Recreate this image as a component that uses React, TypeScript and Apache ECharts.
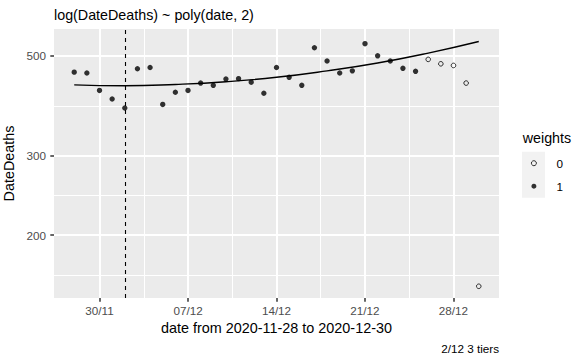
import React, { useEffect, useRef } from "react";
import * as echarts from "echarts";

// ---- data ----
const startDate = "2020-11-28";
const endDate = "2020-12-30";
// one value per day, starting at startDate
const dateDeaths = [
  460, 458, 419, 401, 383, 468, 471, 390, 415, 419, 435,
  430, 444, 445, 437, 413, 471, 448, 430, 521, 487, 458,
  463, 532, 500, 487, 469, 462, 491, 480, 476, 435, 154,
];
const weights = [
  1, 1, 1, 1, 1, 1, 1, 1, 1, 1, 1,
  1, 1, 1, 1, 1, 1, 1, 1, 1, 1, 1,
  1, 1, 1, 1, 1, 1, 0, 0, 0, 0, 0,
];
// fitted curve (day offset, value)
const fitDays = [0, 4, 8, 12, 16, 20, 24, 28, 32];
const fitDeaths = [431, 429, 432, 438, 448, 463, 482, 507, 538];
const tierDay = 4; // 2/12
const xTickDays = [2, 9, 16, 23, 30];
const xTickLabels = ["30/11", "07/12", "14/12", "21/12", "28/12"];
const xMinorDays = [5.5, 12.5, 19.5, 26.5];
const yTicks = [200, 300, 500];

const FONT = "'Liberation Sans', Arial, Helvetica, sans-serif";

export default function App() {
  const ref = useRef<HTMLDivElement>(null);
  useEffect(() => {
    if (!ref.current) return;
    const chart = echarts.init(ref.current, undefined, { renderer: "svg" });

    const yMajorLog = yTicks.map((v) => Math.log10(v));
    const yMinorLog: number[] = [];
    yMinorLog.push(yMajorLog[0] - (yMajorLog[1] - yMajorLog[0]) / 2);
    for (let i = 0; i < yMajorLog.length - 1; i++) {
      yMinorLog.push((yMajorLog[i] + yMajorLog[i + 1]) / 2);
    }

    const pts0: number[][] = [];
    const pts1: number[][] = [];
    dateDeaths.forEach((v, i) => {
      const p = [i, Math.log10(v)];
      if (weights[i] === 0) pts0.push(p);
      else pts1.push(p);
    });

    const xMin = -1.6, xMax = 33.6, yMin = 2.1615, yMax = 2.7585;
    const minorStyle = { color: "white", width: 1, type: "solid" };
    const majorStyle = { color: "white", width: 2, type: "solid" };
    const gridPairs: any[] = [];
    xMinorDays.forEach((d) => gridPairs.push([{ coord: [d, yMin], lineStyle: minorStyle }, { coord: [d, yMax] }]));
    yMinorLog.forEach((v) => gridPairs.push([{ coord: [xMin, v], lineStyle: minorStyle }, { coord: [xMax, v] }]));
    xTickDays.forEach((d) => gridPairs.push([{ coord: [d, yMin], lineStyle: majorStyle }, { coord: [d, yMax] }]));
    yMajorLog.forEach((v) => gridPairs.push([{ coord: [xMin, v], lineStyle: majorStyle }, { coord: [xMax, v] }]));

    const option: any = {
      animation: false,
      backgroundColor: "#fff",
      textStyle: { fontFamily: FONT },
      title: [
        { text: "log(DateDeaths) ~ poly(date, 2)", left: 54, top: 8, padding: 0,
          textStyle: { fontSize: 14.3, fontWeight: "normal", color: "#000", fontFamily: FONT } },
        { text: "weights", left: 522.7, top: 130.5, padding: 0,
          textStyle: { fontSize: 14.3, fontWeight: "normal", color: "#000", fontFamily: FONT } },
        { text: "2/12 3 tiers", right: 87, top: 342, padding: 0,
          textStyle: { fontSize: 11.7, fontWeight: "normal", color: "#000", fontFamily: FONT } },
      ],
      graphic: [
        { type: "rect", z: 0, shape: { x: 522, y: 151.7, width: 23, height: 46 }, style: { fill: "#F2F2F2" } },
      ],
      legend: {
        orient: "vertical", left: 530.9, top: 156.2, padding: 0, itemWidth: 5, itemHeight: 5, itemGap: 9,
        selectedMode: false,
        data: [
          { name: "0", icon: "circle", itemStyle: { color: "rgba(0,0,0,0)", borderColor: "#000", borderWidth: 1 } },
          { name: "1", icon: "circle", itemStyle: { color: "#000", borderWidth: 0 } },
        ],
        textStyle: { fontSize: 11.7, color: "#000", fontFamily: FONT, lineHeight: 14, padding: [0, 0, 0, 15] },
      },
      grid: {
        left: 54, right: 87, top: 29, bottom: 64, show: true,
        backgroundColor: "#EBEBEB", borderWidth: 0, outerBoundsMode: "none",
      },
      xAxis: {
        type: "value", min: xMin, max: xMax,
        axisLine: { show: true, onZero: false, lineStyle: { color: "rgba(0,0,0,0)" } },
        splitLine: { show: false },
        axisTick: { show: true, length: 3.7, lineStyle: { color: "#333", width: 1.5 }, customValues: xTickDays },
        axisLabel: {
          customValues: xTickDays,
          formatter: (v: number) => {
            const i = xTickDays.indexOf(Math.round(v));
            return i >= 0 ? xTickLabels[i] : "";
          },
          color: "#4D4D4D", fontSize: 11.7, margin: 6.5, fontFamily: FONT,
        },
        name: `date from ${startDate} to ${endDate}`,
        nameLocation: "middle", nameGap: 21,
        nameTextStyle: { fontSize: 14.4, color: "#000", fontFamily: FONT },
      },
      yAxis: {
        type: "value", min: yMin, max: yMax,
        axisLine: { show: true, onZero: false, lineStyle: { color: "rgba(0,0,0,0)" } },
        splitLine: { show: false },
        axisTick: { show: true, length: 3.7, lineStyle: { color: "#333", width: 1.5 }, customValues: yMajorLog },
        axisLabel: {
          customValues: yMajorLog,
          formatter: (v: number) => String(Math.round(Math.pow(10, v))),
          color: "#4D4D4D", fontSize: 11.7, margin: 8, fontFamily: FONT,
        },
        name: "DateDeaths", nameLocation: "middle", nameRotate: 90, nameGap: 33,
        nameTextStyle: { fontSize: 14.4, color: "#000", fontFamily: FONT },
      },
      series: [
        {
          name: "fit", type: "line", z: 3, smooth: true, showSymbol: false, symbol: "none",
          lineStyle: { color: "#000", width: 1.4 },
          data: fitDays.map((d, i) => [d, Math.log10(fitDeaths[i])]),
          markLine: { z: 1, silent: true, symbol: "none", label: { show: false }, data: gridPairs },
        },
        {
          name: "0", type: "scatter", z: 4, symbol: "circle", symbolSize: 4.6,
          itemStyle: { color: "rgba(0,0,0,0)", borderColor: "#000", borderWidth: 1 }, data: pts0,
        },
        {
          name: "1", type: "scatter", z: 4, symbol: "circle", symbolSize: 5.4,
          itemStyle: { color: "#000" }, data: pts1,
          markLine: {
            z: 2, silent: true, symbol: "none", label: { show: false },
            lineStyle: { color: "#000", width: 1.1, type: [4, 4] },
            data: [{ xAxis: tierDay }],
          },
        },
      ],
    };
    chart.setOption(option);
    return () => chart.dispose();
  }, []);
  return <div ref={ref} style={{ position: "fixed", left: 0, top: 0, width: 586, height: 362 }} />;
}
